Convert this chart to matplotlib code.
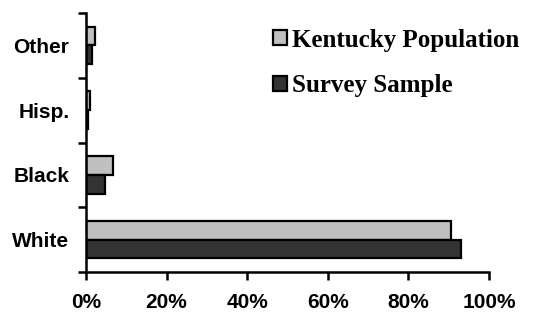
import numpy as np
import matplotlib
matplotlib.use('Agg')
import matplotlib.pyplot as plt
from matplotlib.ticker import FixedLocator, PercentFormatter

groups = ["White", "Black", "Hisp.", "Other"]
kentucky_pop = [90.5, 6.6, 1.0, 2.3]
survey_sample = [93.0, 4.6, 0.4, 1.6]
x_ticks = [0, 20, 40, 60, 80, 100]

fig = plt.figure(figsize=(5.35, 3.21), dpi=100)
ax = fig.add_axes([0.1607, 0.1526, 0.7533, 0.8069])

y = np.arange(len(groups))
h = 0.29
ax.barh(y + h / 2, kentucky_pop, height=h, color="#c0c0c0", edgecolor="black",
        linewidth=1.6, label="Kentucky Population")
ax.barh(y - h / 2, survey_sample, height=h, color="#333333", edgecolor="black",
        linewidth=1.6, label="Survey Sample")

ax.set_xlim(0, 100)
ax.set_ylim(-0.5, len(groups) - 0.5)

for s in ("top", "right"):
    ax.spines[s].set_visible(False)
for s in ("left", "bottom"):
    ax.spines[s].set_linewidth(1.8)

ax.set_xticks(x_ticks)
ax.xaxis.set_major_formatter(PercentFormatter(decimals=0))
ax.tick_params(axis="x", direction="out", length=6, width=1.8, pad=9)

ax.set_yticks(y)
ax.set_yticklabels(groups)
ax.yaxis.set_minor_locator(FixedLocator(np.arange(-0.5, len(groups), 1.0)))
ax.tick_params(axis="y", which="major", length=0, pad=12)
ax.tick_params(axis="y", which="minor", direction="out", length=6, width=1.8)

for lab in ax.get_xticklabels() + ax.get_yticklabels():
    lab.set_fontfamily("Liberation Sans")
    lab.set_fontweight("bold")
    lab.set_fontsize(15)

leg = ax.legend(loc="upper left", bbox_to_anchor=(0.464, 0.94), frameon=False,
                handlelength=0.55, handleheight=0.55, handletextpad=0.2,
                labelspacing=0.9, borderaxespad=0, borderpad=0,
                prop={"family": "Liberation Serif", "weight": "bold", "size": 18})

fig.savefig("out.png", dpi=100)
